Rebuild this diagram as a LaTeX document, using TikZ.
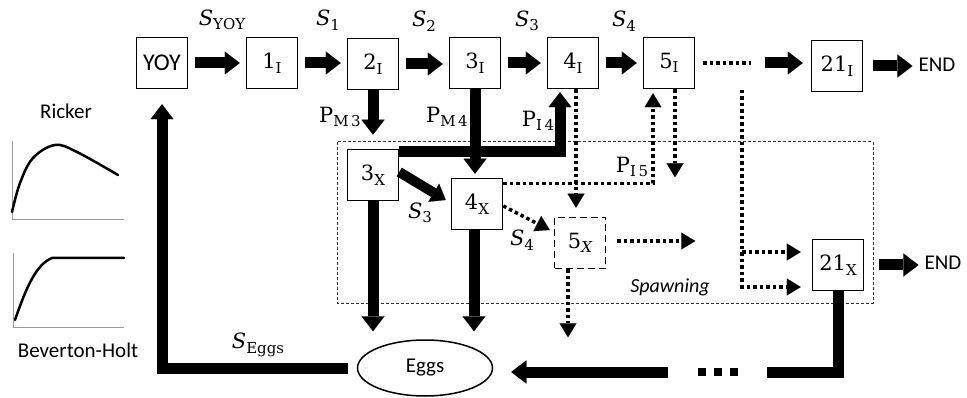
\documentclass[tikz,border=0pt]{standalone}
\usepackage{fontspec}
\setsansfont{Carlito}
\setmainfont{DejaVu Serif}
\usetikzlibrary{arrows.meta,calc,shapes.geometric}
\newcommand\mathsz{\rmfamily\fontsize{21}{25}\selectfont}
\newcommand\sanssz{\sffamily\fontsize{21}{25}\selectfont}
\newcommand\sbs[1]{\raisebox{-0.22em}{\fontsize{15}{18}\selectfont #1}}
\begin{document}
\begin{tikzpicture}[x=1pt,y=-1pt,
  box/.style={draw,line width=1.5pt,minimum width=51pt,minimum height=51pt,inner sep=0pt,font=\mathsz},
  dbox/.style={box,dash pattern=on 7pt off 4pt},
  lab/.style={font=\mathsz,inner sep=0pt},
  txt/.style={font=\sanssz,inner sep=0pt},
  bigline/.style={line width=11pt,line join=miter},
  bigarrow/.style={bigline,-{Triangle[width=23pt,length=15pt,line width=0.01pt]}},
  dotline/.style={line width=3.5pt,dash pattern=on 3.5pt off 3pt},
  dotarrow/.style={dotline,-{Triangle[width=17pt,length=14pt,line width=0.01pt]}},
  curveline/.style={line width=2.5pt,line cap=round},
  axisline/.style={line width=1pt,black!40},
  spawnrect/.style={line width=1pt,black!80,dash pattern=on 3pt off 2pt}
]
\useasboundingbox (0,0) rectangle (967,398);

% spawning region
\draw[spawnrect] (337,142) rectangle (873,303);
\node[txt,font=\sffamily\itshape\fontsize{20}{24}\selectfont] (spw) at (670,287) {Spawning};

% boxes
\node[box,font=\sffamily\fontsize{24}{28}\selectfont] (yoy) at (162,63) {YOY};
\node[box] (i1) at (272,63) {1\sbs{I}};
\node[box] (i2) at (373,64) {2\sbs{I}};
\node[box] (i3) at (475,63) {3\sbs{I}};
\node[box] (i4) at (573,63) {4\sbs{I}};
\node[box] (i5) at (669,63) {5\sbs{I}};
\node[box] (i21) at (837,66) {21\sbs{I}};
\node[txt] (end1) at (937,65) {END};
\node[box] (x3) at (373,175) {3\sbs{X}};
\node[box] (x4) at (477,204) {4\sbs{X}};
\node[dbox] (x5) at (580,243) {5\sbs{\itshape X}};
\node[box] (x21) at (838,265) {21\sbs{X}};
\node[txt] (end2) at (943,263) {END};
\node[draw,ellipse,line width=1.5pt,minimum width=135pt,minimum height=56pt,inner sep=0pt,font=\sanssz] (eggs) at (425,368) {Eggs};

% labels
\node[lab] (lsyoy) at (222,20) {\textit{S}\sbs{YOY}};
\node[lab] (ls1) at (328,20) {\textit{S}\sbs{1}};
\node[lab] (ls2) at (424,21) {\textit{S}\sbs{2}};
\node[lab] (ls3) at (527,21) {\textit{S}\sbs{3}};
\node[lab] (ls4) at (624,21) {\textit{S}\sbs{4}};
\node[lab] (lpm3) at (340,117) {P\sbs{M\,3}};
\node[lab] (lpm4) at (447,117) {P\sbs{M\,4}};
\node[lab] (lpi4) at (538,121) {P\sbs{I\,4}};
\node[lab] (lpi5) at (632,167) {P\sbs{I\,5}};
\node[lab] (lsx3) at (420,213) {\textit{S}\sbs{3}};
\node[lab] (lsx4) at (522,240) {\textit{S}\sbs{4}};
\node[lab] (lseggs) at (258,345) {\textit{S}\sbs{Eggs}};

% top row arrows
\foreach \a/\b in {yoy/i1,i1/i2,i2/i3,i3/i4,i4/i5}
  \draw[bigarrow,shorten <=7pt,shorten >=6pt] (\a.east) -- (\a.east -| \b.west);
\coordinate (d1) at ($(i5.east)+(8,0)$);
\coordinate (d2) at ($(i5.east)+(56,0)$);
\coordinate (d3) at ($(i5.east)+(70,0)$);
\draw[dotline] (d1) -- (d2);
\draw[bigarrow,shorten >=8pt] (d3) -- (d3 -| i21.west);
\draw[bigarrow,shorten <=10pt,shorten >=6pt] (i21.east) -- (i21.east -| end1.west);

% immature -> spawning
\draw[bigarrow,shorten >=14pt] (i2.south) -- (x3.north);
\draw[bigarrow,shorten >=4pt] (i3.south) -- (i3.south |- x4.north);
\draw[bigarrow,shorten >=3pt] ($(x3.north east)+(0,3)$) -| ($(i4.south)+(-13,0)$);
\draw[bigline,-{Triangle[width=21pt,length=14pt,line width=0.01pt]},line width=10pt] ($(x3.east)+(0,-3)$) -- ($(x4.west)+(-5,-4)$);

% dotted transitions
\draw[dotarrow] ($(x4.east)+(0,2)$) -- ($(x5.west)+(-4,-13)$);
\draw[dotarrow,shorten >=4pt] ($(x4.north east)+(0,6)$) -| ($(i5.south)+(-16,0)$);
\coordinate (a4) at ($(i4.south)+(3,0)$);
\draw[dotarrow,shorten >=9pt] (a4) -- (a4 |- x5.north);
\coordinate (a5) at ($(i5.south)+(6,0)$);
\coordinate (a5e) at ($(a5)+(0,88)$);
\draw[dotarrow] (a5) -- (a5e);
\coordinate (b5) at ($(x5.east)+(11,-2)$);
\coordinate (b5e) at ($(b5)+(78,0)$);
\draw[dotarrow] (b5) -- (b5e);
\coordinate (c5) at ($(x5.south)+(-12,0)$);
\coordinate (c5e) at ($(c5)+(0,68)$);
\draw[dotarrow] (c5) -- (c5e);
\coordinate (br0) at (742,90);
\coordinate (brA) at (742,252);
\coordinate (brB) at (742,287);
\draw[dotarrow] (br0) -- (brB) -- ($(brB -| x21.west)+(-11,0)$);
\draw[dotarrow] (brA) -- ($(brA -| x21.west)+(-11,0)$);
\draw[bigarrow,shorten <=15pt,shorten >=6pt] (x21.east) -- (x21.east -| end2.west);

% to eggs
\draw[bigarrow,shorten >=8pt] (x3.south) -- (x3.south |- eggs.north);
\coordinate (a4x) at ($(x4.south)+(-3,0)$);
\draw[bigarrow,shorten >=8pt] (a4x) -- (a4x |- eggs.north);
\coordinate (r2) at (767,372);
\draw[bigline] (x21.south) |- (r2);
\coordinate (q1) at (698,372);
\coordinate (q2) at (741,372);
\draw[line width=8pt,dash pattern=on 8pt off 8pt] (q1) -- (q2);
\coordinate (r3) at (668,372);
\draw[bigarrow,shorten >=18pt] (r3) -- (r3 -| eggs.east);
\draw[bigarrow,shorten <=9pt,shorten >=15pt] (eggs.west) -| (yoy.south);

% stock-recruitment curves
\node[txt] (ricker) at (66,111) {Ricker};
\draw[axisline] (12,141) -- (12,220) -- (124,220);
\draw[curveline] plot[smooth,tension=0.6] coordinates {(12,212) (20,183) (33,158) (55,145) (77,152) (118,175)};
\node[txt] (bh) at (78,350) {Beverton-Holt};
\draw[axisline] (13,253) -- (13,327) -- (124,327);
\draw[curveline] (15,320) .. controls (27,285) and (37,264) .. (52,258) -- (124,258);
\end{tikzpicture}
\end{document}
